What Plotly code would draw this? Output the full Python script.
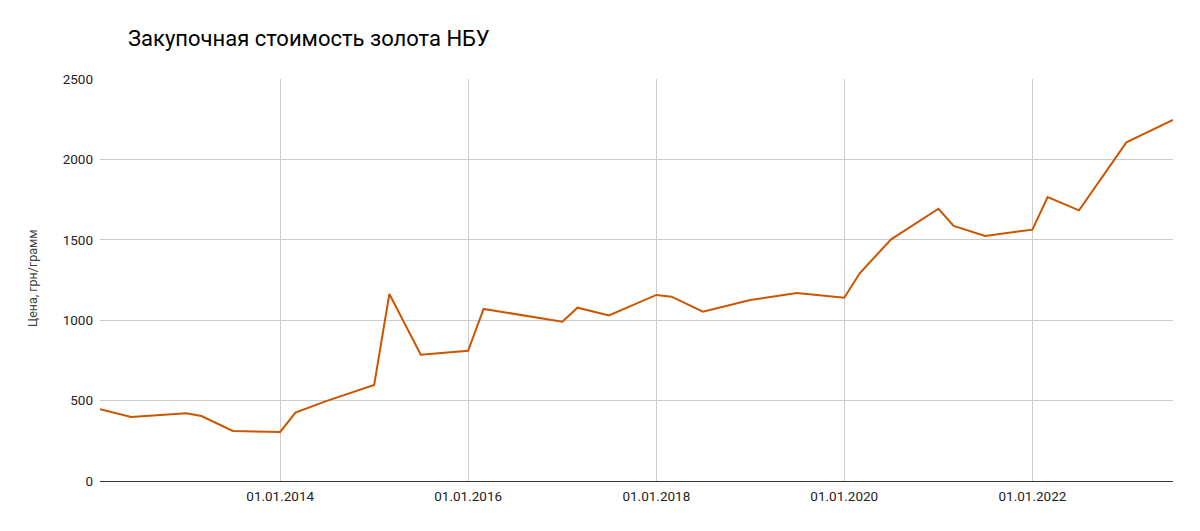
import plotly.graph_objects as go

dates = [
    "2012-02-01", "2012-06-01", "2013-01-01", "2013-03-01", "2013-07-01",
    "2014-01-01", "2014-03-01", "2014-07-01", "2015-01-01", "2015-03-01",
    "2015-07-01", "2016-01-01", "2016-03-01", "2017-01-01", "2017-03-01",
    "2017-07-01", "2018-01-01", "2018-03-01", "2018-07-01", "2019-01-01",
    "2019-07-01", "2020-01-01", "2020-03-01", "2020-07-01", "2021-01-01",
    "2021-03-01", "2021-07-01", "2022-01-01", "2022-03-01", "2022-07-01",
    "2023-01-01", "2023-07-01",
]
prices = [
    446, 398, 421, 404, 311,
    305, 425, 498, 597, 1163,
    785, 810, 1070, 991, 1078,
    1030, 1157, 1146, 1053, 1126,
    1169, 1140, 1292, 1503, 1693,
    1586, 1524, 1563, 1766, 1683,
    2106, 2245,
]
x_tick_vals = ["2014-01-01", "2016-01-01", "2018-01-01", "2020-01-01", "2022-01-01"]
x_tick_text = ["01.01.2014", "01.01.2016", "01.01.2018", "01.01.2020", "01.01.2022"]
y_tick_vals = [0, 500, 1000, 1500, 2000, 2500]

title_text = "Закупочная стоимость золота НБУ"
y_title = "Цена, грн/грамм"

# page body adds an 8px offset; compensate
OFF = 8
W, H = 1200 - 2 * OFF, 531 - 2 * OFF

fig = go.Figure()
fig.add_trace(go.Scatter(
    x=dates, y=prices, mode="lines",
    line=dict(color="#cc5500", width=2),
    hoverinfo="x+y",
))

fig.update_layout(
    width=W, height=H,
    paper_bgcolor="white", plot_bgcolor="white",
    margin=dict(l=100 - OFF, r=W - (1173 - OFF), t=79 - OFF, b=H - (481 - OFF)),
    font=dict(family="Roboto", size=13, color="#222222"),
    showlegend=False,
    title=dict(
        text=title_text, x=(128 - OFF) / W, xanchor="left", xref="container",
        y=1 - (38 - OFF) / H, yanchor="middle", yref="container",
        font=dict(family="Roboto", size=22, color="#000000"),
    ),
    xaxis=dict(
        type="date", range=[dates[0], dates[-1]],
        tickvals=x_tick_vals, ticktext=x_tick_text,
        showgrid=True, gridcolor="#cccccc", gridwidth=1,
        showline=False, zeroline=False, ticks="", ticklabelstandoff=5,
        tickfont=dict(size=13.5, color="#222222"),
    ),
    yaxis=dict(
        range=[0, 2500], tickvals=y_tick_vals,
        showgrid=True, gridcolor="#cccccc", gridwidth=1,
        zeroline=True, zerolinecolor="#333333", zerolinewidth=1,
        showline=False, ticks="", ticklabelstandoff=6,
        tickfont=dict(size=13.5, color="#222222"),
    ),
    annotations=[dict(
        text=y_title, xref="paper", yref="paper",
        x=(33 - 100) / 1073, y=0.505, xanchor="center", yanchor="middle",
        textangle=-90, showarrow=False,
        font=dict(family="Roboto", size=12.5, color="#444444"),
    )],
)

fig.write_html("out.html")
